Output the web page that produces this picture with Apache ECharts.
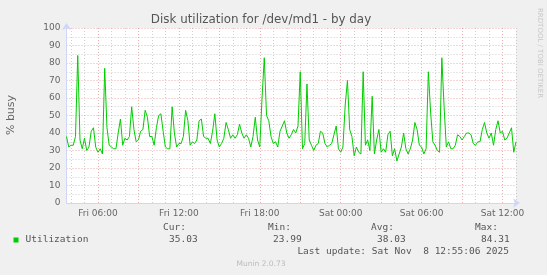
<!DOCTYPE html>
<html>
<head>
<meta charset="utf-8">
<script src="https://cdn.jsdelivr.net/npm/echarts@6/dist/echarts.min.js"></script>
<style>
html,body{margin:0;padding:0;background:#F0F0F0;}
#c{width:547px;height:275px;}
</style>
</head>
<body>
<div id="c"></div>
<script>
// Time: minutes since Fri 00:00, one sample every 10 minutes
var startMinute = 220;   // Fri 03:40
var endMinute = 2220;    // Sat 13:00
var stepMinutes = 10;
var utilization = [
38,32,33,33,38,84.31,36,31,37,30,
32,41,43,32,29,31,28,77,43,33,
32,31,31,40,48,33,37,36,38,55,
42,35,36,41,42,53,49,38,38,33,
43,50,51,41,32,31,31,55,40,32,
34,34,38,53,47,33,35,34,36,47,
48,38,37,37,34,41,51,36,32,34,
37,46,42,37,39,37,39,45,40,37,
39,37,32,38,49,36,32,60,83,50,
47,38,34,35,32,41,44,47,40,37,
39,42,40,44,75,31,34,68,36,33,
30,33,34,41,40,34,32,33,34,39,
44,31,29,32,56,70,42,38,27,32,
29,28,75,33,36,30,61,28,36,42,
29,31,29,39,41,27,31,23.99,28,32,
40,31,28,31,36,46,42,33,32,28,
31,75,52,35,33,30,29,83,55,32,
35,31,31,33,39,38,36,38,40,40,
39,34,33,35,35,42,46,40,37,40,
33,42,47,40,41,36,37,40,43,29,
35.03
];
var xTickMinutes = [360, 720, 1080, 1440, 1800, 2160];
var xTickLabels = ['Fri 06:00','Fri 12:00','Fri 18:00','Sat 00:00','Sat 06:00','Sat 12:00'];
var statHeaders = ['Cur:','Min:','Avg:','Max:'];
var statValues = ['35.03','23.99','38.03','84.31'];
var seriesName = 'Utilization';
var titleText = 'Disk utilization for /dev/md1 - by day';
var yAxisName = '% busy';
var lastUpdate = 'Last update: Sat Nov  8 12:55:06 2025';
var footer = 'Munin 2.0.73';
var watermark = 'RRDTOOL / TOBI OETIKER';

var points = utilization.map(function(v, i){ return [startMinute + i*stepMinutes, v]; });

var RED = 'rgba(222,120,120,0.6)';
var GREY = 'rgba(150,150,150,0.45)';
var AXIS = '#CFD6F8';
var FONT = '#666666';
var T = 'rgba(0,0,0,0)';

// x split lines every 20 min: hide non-hour ticks, grey each hour, red every 3 hours
var xColors = [T, GREY, T, T, GREY, T, T, RED, T];

var statHeaderX = [163, 268, 371, 475];
var statValueX = [169, 273, 377, 481];

var graphics = [
  {type:'text', x: 261, y: 20, style:{text: titleText, textAlign:'center', textVerticalAlign:'middle', fill:'#555', font:'11.9px "DejaVu Sans"'}},
  {type:'text', x: 11, y: 115, rotation: Math.PI/2, style:{text: yAxisName, textAlign:'center', textVerticalAlign:'middle', fill:FONT, font:'11px "DejaVu Sans"'}},
  {type:'text', x: 540, y: 8, rotation: -Math.PI/2, style:{text: watermark, textAlign:'left', textVerticalAlign:'middle', fill:'#C8C8C8', font:'7px "DejaVu Sans"'}},
  {type:'rect', shape:{x:13.5, y:237.5, width:5, height:5}, style:{fill:'#00CC00'}},
  {type:'text', x: 25.5, y: 240, style:{text: seriesName, textAlign:'left', textVerticalAlign:'middle', fill:'#555', font:'9.5px "DejaVu Sans Mono"'}},
  {type:'text', x: 509, y: 252, style:{text: lastUpdate, textAlign:'right', textVerticalAlign:'middle', fill:'#555', font:'9.5px "DejaVu Sans Mono"'}},
  {type:'text', x: 261, y: 264, style:{text: footer, textAlign:'center', textVerticalAlign:'middle', fill:'#BBBBBB', font:'7.5px "DejaVu Sans"'}}
];
statHeaders.forEach(function(h, k){
  graphics.push({type:'text', x: statHeaderX[k], y: 228, style:{text: h, textAlign:'left', textVerticalAlign:'middle', fill:'#555', font:'9.5px "DejaVu Sans Mono"'}});
  graphics.push({type:'text', x: statValueX[k], y: 240, style:{text: statValues[k], textAlign:'left', textVerticalAlign:'middle', fill:'#555', font:'9.5px "DejaVu Sans Mono"'}});
});

var chart = echarts.init(document.getElementById('c'), null, {renderer:'canvas'});
chart.setOption({
  animation: false,
  backgroundColor: '#F0F0F0',
  grid: {left: 66.5, right: 31, top: 28, bottom: 72, show: true, backgroundColor: '#FFFFFF', borderWidth: 0, containLabel: false},
  xAxis: {
    type: 'value', min: startMinute, max: endMinute, interval: 20,
    axisLine: {show: true, onZero: false, lineStyle: {color: AXIS, width: 1}, symbol: ['none','arrow'], symbolSize: [7, 7], symbolOffset: [0, 4]},
    axisTick: {show: false},
    splitLine: {show: true, lineStyle: {color: xColors, type: [1, 2], width: 1}},
    axisLabel: {
      interval: 0, showMinLabel: true, showMaxLabel: true, margin: 6,
      color: FONT, fontFamily: 'DejaVu Sans', fontSize: 9,
      formatter: function(v){ var k = xTickMinutes.indexOf(v); return k >= 0 ? xTickLabels[k] : ''; }
    }
  },
  yAxis: {
    type: 'value', min: 0, max: 100, interval: 5,
    axisLine: {show: true, lineStyle: {color: AXIS, width: 1}, symbol: ['none','arrow'], symbolSize: [7, 7], symbolOffset: [0, 5]},
    axisTick: {show: false},
    splitLine: {show: true, lineStyle: {color: [RED, GREY], type: [1, 2], width: 1}},
    axisLabel: {
      margin: 6, color: FONT, fontFamily: 'DejaVu Sans', fontSize: 9,
      formatter: function(v){ return v % 10 === 0 ? String(v) : ''; }
    }
  },
  graphic: graphics,
  series: [{
    name: seriesName, type: 'line', data: points, showSymbol: false, symbol: 'none',
    lineStyle: {color: '#00CC00', width: 1}, itemStyle: {color: '#00CC00'}, z: 5
  }]
});
</script>
</body>
</html>
